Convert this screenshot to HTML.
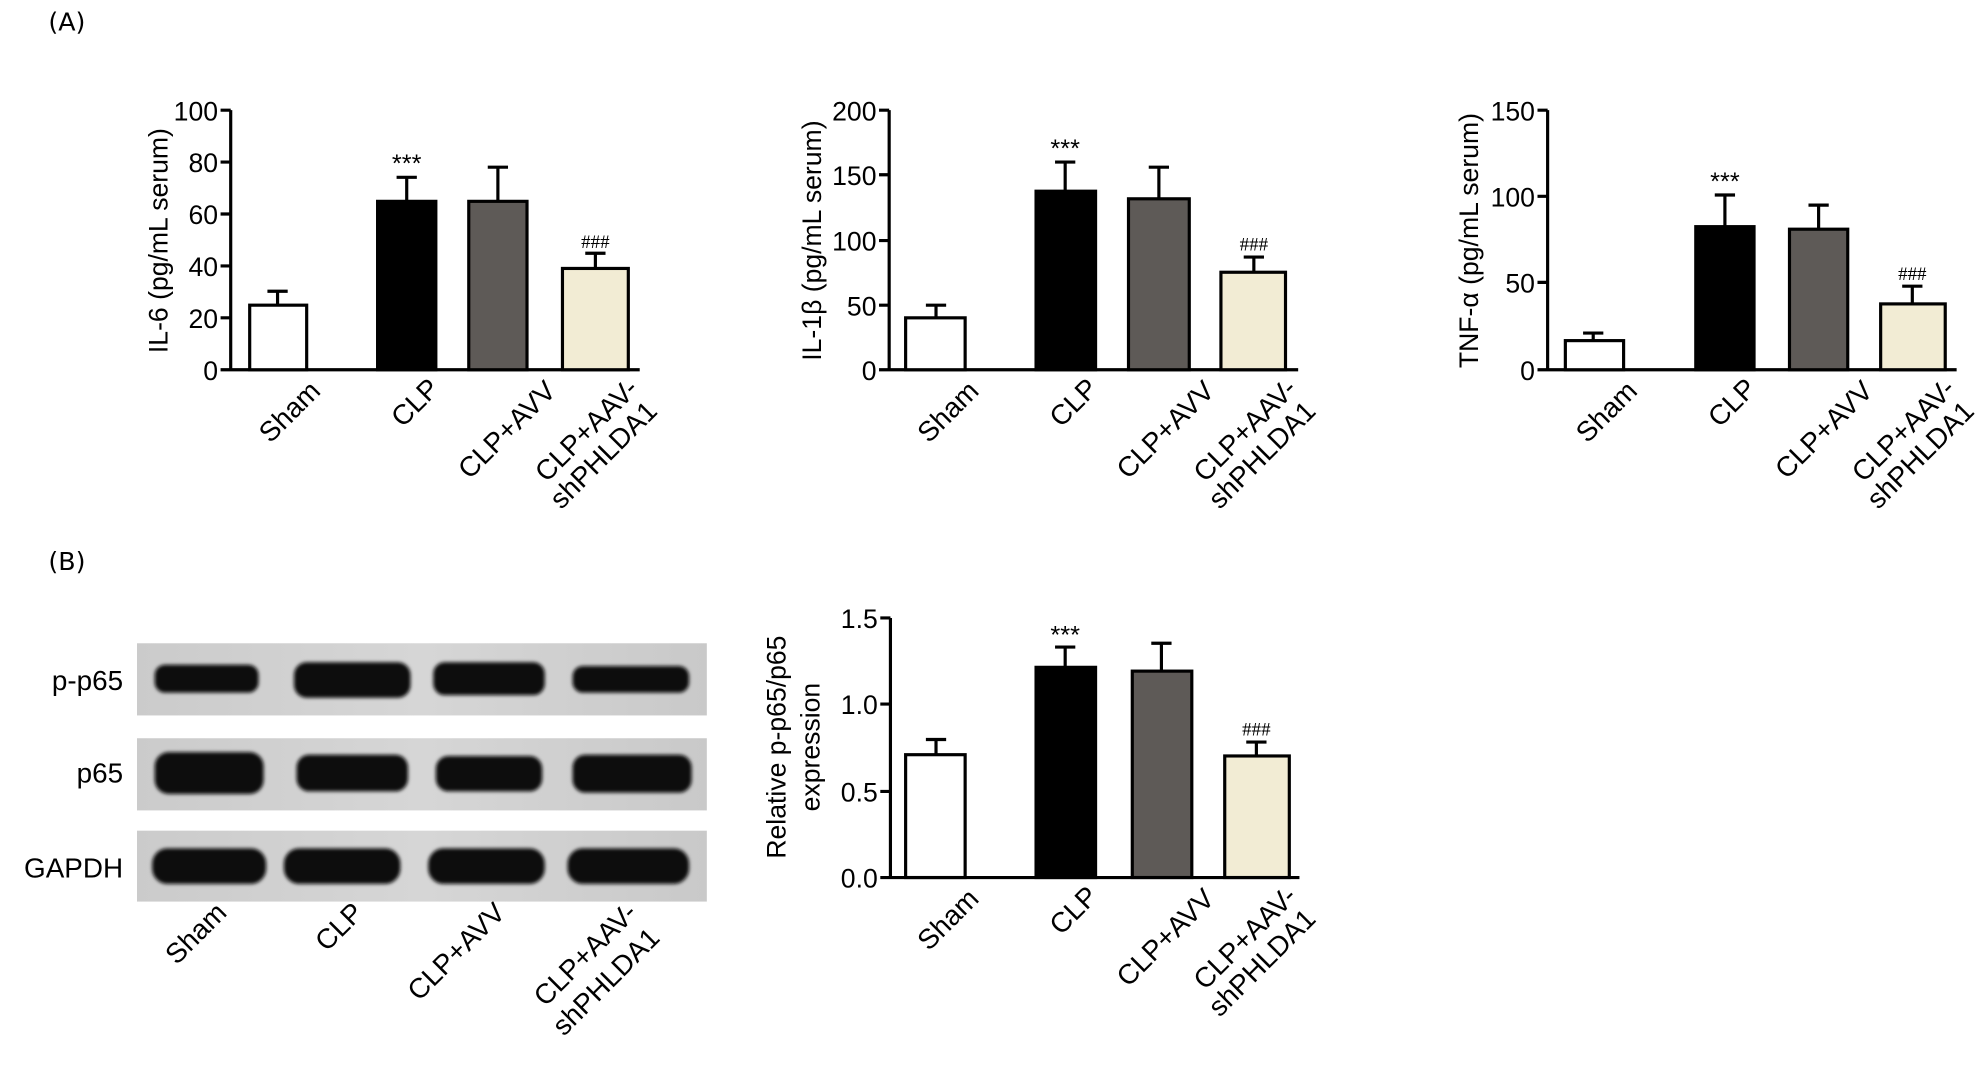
<!DOCTYPE html>
<html><head><meta charset="utf-8"><style>html,body{margin:0;padding:0;background:#fff}svg{display:block}</style></head><body>
<svg width="1986" height="1070" viewBox="0 0 1568 845" xmlns="http://www.w3.org/2000/svg" font-family="Liberation Sans, Arial, sans-serif">
<defs>
<linearGradient id="bg" x1="0" x2="1" y1="0" y2="0"><stop offset="0" stop-color="#cbcbcb"/><stop offset="0.5" stop-color="#d6d6d6"/><stop offset="1" stop-color="#c9c9c9"/></linearGradient>
<filter id="bl"><feGaussianBlur stdDeviation="1.5"/></filter>
</defs>
<text x="38" y="24" font-size="20" font-family="DejaVu Sans, sans-serif">(A)</text>
<text x="38" y="450" font-size="20" font-family="DejaVu Sans, sans-serif">(B)</text>

<g stroke="#000" stroke-width="2.5" fill="none">
<path d="M182,87V292H505 M174,87H182 M174,128H182 M174,169H182 M174,210H182 M174,251H182 M174,292H182"/>
<path d="M702,87V292H1025 M694,87H702 M694,138H702 M694,190H702 M694,241H702 M694,292H702"/>
<path d="M1222,87V292H1545 M1214,87H1222 M1214,155H1222 M1214,223H1222 M1214,292H1222"/>
<path d="M703,488V693H1026 M695,488H703 M695,556H703 M695,625H703 M695,693H703"/>
</g>

<g font-size="21" text-anchor="end">
<text x="172" y="95">100</text><text x="172" y="136">80</text><text x="172" y="177">60</text><text x="172" y="218">40</text><text x="172" y="259">20</text><text x="172" y="300">0</text>
<text x="692" y="95">200</text><text x="692" y="146">150</text><text x="692" y="198">100</text><text x="692" y="249">50</text><text x="692" y="300">0</text>
<text x="1212" y="95">150</text><text x="1212" y="163">100</text><text x="1212" y="231">50</text><text x="1212" y="300">0</text>
<text x="693" y="496">1.5</text><text x="693" y="564">1.0</text><text x="693" y="633">0.5</text><text x="693" y="701">0.0</text>
</g>

<g font-size="21" text-anchor="middle">
<text transform="translate(132,190) rotate(-90)">IL-6 (pg/mL serum)</text>
<text transform="translate(648,190) rotate(-90)">IL-1β (pg/mL serum)</text>
<text transform="translate(1167,190) rotate(-90)">TNF-α (pg/mL serum)</text>
<text transform="translate(620,590) rotate(-90)">Relative p-p65/p65</text>
<text transform="translate(647,590) rotate(-90)">expression</text>
</g>

<g stroke="#000" stroke-width="2.5">
<path d="M219,241V230M211,230H227 M321,159V140M313,140H329 M393,159V132M385,132H401 M470,212V200M462,200H478" fill="none"/>
<rect x="197" y="241" width="45" height="51" fill="#fff"/>
<rect x="298" y="159" width="46" height="133" fill="#000"/>
<rect x="370" y="159" width="46" height="133" fill="#5e5a57"/>
<rect x="444" y="212" width="52" height="80" fill="#f2ecd4"/>
<path d="M739,251V241M731,241H747 M841,151V128M833,128H849 M915,157V132M907,132H923 M990,215V203M982,203H998" fill="none"/>
<rect x="715" y="251" width="47" height="41" fill="#fff"/>
<rect x="818" y="151" width="47" height="141" fill="#000"/>
<rect x="891" y="157" width="48" height="135" fill="#5e5a57"/>
<rect x="964" y="215" width="51" height="77" fill="#f2ecd4"/>
<path d="M1258,269V263M1250,263H1266 M1362,179V154M1354,154H1370 M1436,181V162M1428,162H1444 M1510,240V226M1502,226H1518" fill="none"/>
<rect x="1236" y="269" width="46" height="23" fill="#fff"/>
<rect x="1339" y="179" width="46" height="113" fill="#000"/>
<rect x="1413" y="181" width="46" height="111" fill="#5e5a57"/>
<rect x="1485" y="240" width="51" height="52" fill="#f2ecd4"/>
<path d="M739,596V584M731,584H747 M841,527V511M833,511H849 M917,530V508M909,508H925 M992,597V586M984,586H1000" fill="none"/>
<rect x="715" y="596" width="47" height="97" fill="#fff"/>
<rect x="818" y="527" width="47" height="166" fill="#000"/>
<rect x="894" y="530" width="47" height="163" fill="#5e5a57"/>
<rect x="967" y="597" width="51" height="96" fill="#f2ecd4"/>
</g>

<g font-size="20" text-anchor="middle">
<text x="321" y="136">***</text><text x="470" y="196" font-family="Liberation Serif, serif" font-size="15">###</text>
<text x="841" y="124">***</text><text x="990" y="198" font-family="Liberation Serif, serif" font-size="15">###</text>
<text x="1362" y="150">***</text><text x="1510" y="221" font-family="Liberation Serif, serif" font-size="15">###</text>
<text x="841" y="508">***</text><text x="992" y="581" font-family="Liberation Serif, serif" font-size="15">###</text>
</g>

<g font-size="22" text-anchor="end">
<g id="xl1">
<text transform="translate(254,310) rotate(-45)">Sham</text>
<text transform="translate(348,308) rotate(-45)">CLP</text>
<text transform="translate(440,310) rotate(-45)">CLP+AVV</text>
<text transform="translate(505,308) rotate(-45)">CLP+AAV-</text>
<text transform="translate(520,326) rotate(-45)">shPHLDA1</text>
</g>
<use href="#xl1" x="520"/>
<use href="#xl1" x="1040"/>
<use href="#xl1" x="520" y="401"/>
<text transform="translate(180,722) rotate(-45)">Sham</text>
<text transform="translate(288,722) rotate(-45)">CLP</text>
<text transform="translate(400,722) rotate(-45)">CLP+AVV</text>
<text transform="translate(504,722) rotate(-45)">CLP+AAV-</text>
<text transform="translate(522,742) rotate(-45)">shPHLDA1</text>
</g>

<g font-size="22" text-anchor="end">
<text x="97" y="545">p-p65</text>
<text x="97" y="618">p65</text>
<text x="97" y="693">GAPDH</text>
</g>
<rect x="108" y="508" width="450" height="57" fill="url(#bg)"/>
<rect x="108" y="583" width="450" height="57" fill="url(#bg)"/>
<rect x="108" y="656" width="450" height="56" fill="url(#bg)"/>
<g fill="#0a0a0a" filter="url(#bl)">
<rect x="122" y="525" width="82" height="22" rx="8"/>
<rect x="232" y="523" width="92" height="28" rx="10"/>
<rect x="342" y="523" width="88" height="26" rx="9"/>
<rect x="452" y="526" width="92" height="21" rx="8"/>
<rect x="122" y="594" width="86" height="33" rx="11"/>
<rect x="234" y="596" width="88" height="29" rx="10"/>
<rect x="344" y="597" width="84" height="28" rx="10"/>
<rect x="452" y="596" width="94" height="30" rx="10"/>
<rect x="120" y="670" width="90" height="28" rx="12"/>
<rect x="224" y="670" width="92" height="28" rx="12"/>
<rect x="338" y="670" width="92" height="28" rx="12"/>
<rect x="448" y="670" width="96" height="28" rx="12"/>
</g>
</svg>
</body></html>
